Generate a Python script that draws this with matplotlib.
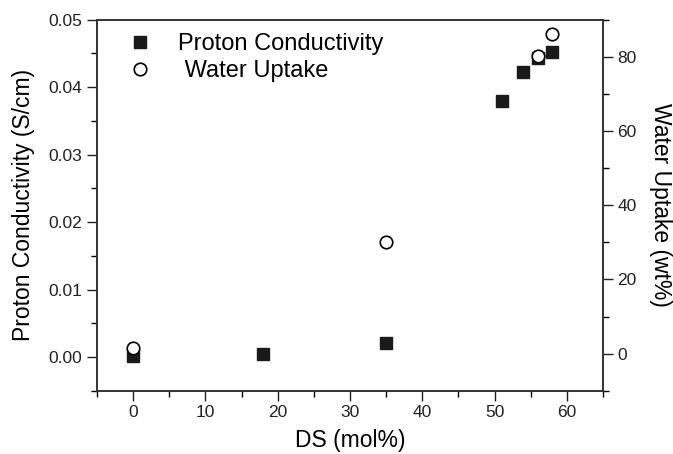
import matplotlib.pyplot as plt

plt.rcParams['font.family'] = ['Liberation Sans', 'DejaVu Sans']

# data
ds_cond = [0, 18, 35, 51, 54, 56, 58]
conductivity = [0.0002, 0.0005, 0.0021, 0.0380, 0.0423, 0.0443, 0.0452]
ds_water = [0, 35, 56, 58]
water_uptake = [1.5, 30.2, 80.2, 86.2]

fig = plt.figure(figsize=(6.73, 4.54), dpi=100)
ax = fig.add_axes([0.144, 0.139, 0.752, 0.818])
ax2 = ax.twinx()

sq, = ax.plot(ds_cond, conductivity, 's', color='#1a1a1a', markersize=8.5,
              linestyle='none', label='Proton Conductivity')
ci, = ax2.plot(ds_water, water_uptake, 'o', markerfacecolor='white',
               markeredgecolor='black', markeredgewidth=1.2, markersize=9,
               linestyle='none', label=' Water Uptake', zorder=5)

ax.set_xlim(-5, 65)
ax.set_ylim(-0.005, 0.05)
ax2.set_ylim(-10, 90)

ax.set_xticks(range(0, 61, 10))
ax.set_xticks(range(-5, 66, 5), minor=True)
ax.set_yticks([0.0, 0.01, 0.02, 0.03, 0.04, 0.05])
ax.set_yticklabels(['0.00', '0.01', '0.02', '0.03', '0.04', '0.05'])
ax.set_yticks([i * 0.005 for i in range(-1, 11)], minor=True)
ax2.set_yticks(range(0, 81, 20))
ax2.set_yticks(range(-10, 91, 10), minor=True)

for a in (ax, ax2):
    a.tick_params(which='major', direction='out', length=7, width=1, labelsize=12.5, colors='#222222')
    a.tick_params(which='minor', direction='out', length=4, width=1)
    for s in a.spines.values():
        s.set_linewidth(1.2)
        s.set_color('#333333')

ax.set_xlabel('DS (mol%)', fontsize=16.5, labelpad=6)
ax.set_ylabel('Proton Conductivity (S/cm)', fontsize=16.5, labelpad=10)
ax2.set_ylabel('Water Uptake (wt%)', fontsize=16.5, rotation=270, labelpad=25)

ax.legend(handles=[sq, ci], loc='upper left', bbox_to_anchor=(0.02, 1.02),
          frameon=False, fontsize=17, handletextpad=1.1, labelspacing=0.2,
          handlelength=1.0)

fig.savefig('out.png', dpi=100)
